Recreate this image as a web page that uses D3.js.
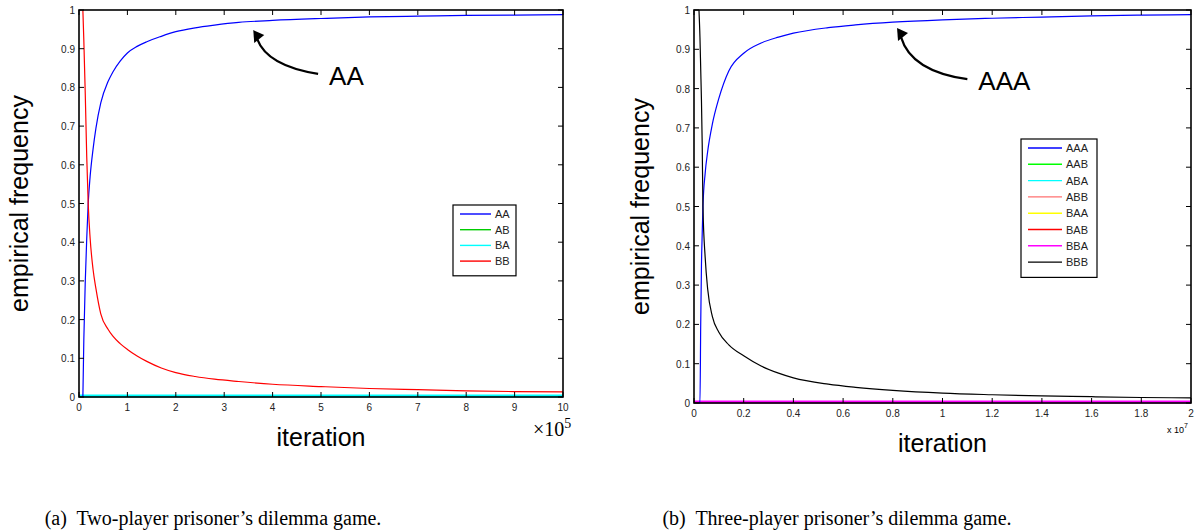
<!DOCTYPE html>
<html lang="en">
<head>
<meta charset="UTF-8">
<title>Empirical frequency of joint actions</title>
<script src="https://cdnjs.cloudflare.com/ajax/libs/d3/7.8.5/d3.min.js"></script>
<style>
    body { margin: 0; background: #fff; }
    svg { display: block; }
    .tick-label { font: 10px "Liberation Sans", Arial, sans-serif; fill: #222; }
    .axis-title { font: 25px "Liberation Sans", Arial, sans-serif; fill: #000; }
    .legend-text { font: 11px "Liberation Sans", Arial, sans-serif; fill: #222; }
    .caption { font: 20px "Liberation Serif", "Times New Roman", serif; fill: #000; }
    .annot { font: 26px "Liberation Sans", Arial, sans-serif; fill: #000; }
</style>
</head>
<body>
<svg id="chart" width="1195" height="531"></svg>
<script>
// ---- data: panel (a), iteration in units of 1e5 ----
const itersA = [0.08, 0.1, 0.13, 0.16, 0.19, 0.23, 0.29, 0.35, 0.45, 0.6, 0.7, 0.85, 1, 1.2, 1.4, 1.7, 2, 2.4, 2.8, 3.3, 4, 5, 6, 7, 8, 9, 10];
const seriesA_AA = [0, 0.15, 0.3, 0.41, 0.5, 0.57, 0.64, 0.695, 0.76, 0.815, 0.84, 0.868, 0.889, 0.906, 0.918, 0.932, 0.944, 0.954, 0.961, 0.968, 0.973, 0.978, 0.982, 0.984, 0.986, 0.987, 0.988];
const seriesA_AB = itersA.map(() => 0);
const seriesA_BA = itersA.map(() => 0);
const seriesA_BB = [1, 0.92, 0.78, 0.62, 0.5, 0.41, 0.33, 0.28, 0.215, 0.175, 0.157, 0.138, 0.123, 0.106, 0.092, 0.075, 0.063, 0.053, 0.046, 0.04, 0.033, 0.027, 0.022, 0.019, 0.016, 0.014, 0.013];
const namesA = ["AA", "AB", "BA", "BB"];
const colorsA = ["#0000ff", "#00cc00", "#00ffff", "#ff0000"];
const xTicksA = [0, 1, 2, 3, 4, 5, 6, 7, 8, 9, 10];

// ---- data: panel (b), iteration in units of 1e7 ----
const itersB = [0.02, 0.024, 0.027, 0.03, 0.033, 0.036, 0.045, 0.055, 0.074, 0.1, 0.14, 0.2, 0.27, 0.34, 0.4, 0.54, 0.65, 0.8, 1.0, 1.2, 1.4, 1.6, 1.8, 2.0];
const seriesB_AAA = [0, 0, 0.2, 0.35, 0.43, 0.5, 0.585, 0.64, 0.71, 0.775, 0.845, 0.89, 0.916, 0.931, 0.941, 0.955, 0.962, 0.969, 0.975, 0.979, 0.982, 0.985, 0.987, 0.988];
const seriesB_zero = itersB.map(() => 0);
const seriesB_BBB = [1, 0.93, 0.85, 0.77, 0.66, 0.5, 0.37, 0.29, 0.22, 0.18, 0.148, 0.12, 0.094, 0.076, 0.064, 0.048, 0.04, 0.032, 0.025, 0.021, 0.018, 0.016, 0.014, 0.013];
const namesB = ["AAA", "AAB", "ABA", "ABB", "BAA", "BAB", "BBA", "BBB"];
const colorsB = ["#0000ff", "#00ff00", "#00ffff", "#ff7070", "#ffff00", "#ff0000", "#ff00ff", "#000000"];
const xTicksB = [0, 0.2, 0.4, 0.6, 0.8, 1, 1.2, 1.4, 1.6, 1.8, 2];

const yTicks = [0, 0.1, 0.2, 0.3, 0.4, 0.5, 0.6, 0.7, 0.8, 0.9, 1];

const svg = d3.select("#chart");

function drawPanel(cfg) {
    const x = d3.scaleLinear().domain(cfg.xDomain).range([cfg.left, cfg.right]);
    const y = d3.scaleLinear().domain([0, 1]).range([cfg.bottom, cfg.top]);
    const g = svg.append("g");
    const tickLen = 5;

    // zero series first (flat along the bottom, from x = 0)
    cfg.series.forEach((s, i) => {
        if (d3.max(s) === 0) {
            g.append("line")
                .attr("x1", x(0)).attr("x2", x(cfg.xDomain[1]))
                .attr("y1", y(0) - 1).attr("y2", y(0) - 1)
                .attr("stroke", cfg.colors[i])
                .attr("stroke-width", cfg.widths[i]);
        }
    });

    // curved series
    const line = d3.line()
        .x(d => x(d[0]))
        .y(d => y(d[1]))
        .curve(d3.curveMonotoneX);
    cfg.series.forEach((s, i) => {
        if (d3.max(s) === 0) return;
        g.append("path")
            .datum(cfg.iters.map((t, j) => [t, s[j]]))
            .attr("fill", "none")
            .attr("stroke", cfg.colors[i])
            .attr("stroke-width", cfg.widths[i])
            .attr("d", line);
    });

    // frame
    g.append("rect")
        .attr("x", cfg.left).attr("y", cfg.top)
        .attr("width", cfg.right - cfg.left).attr("height", cfg.bottom - cfg.top)
        .attr("fill", "none").attr("stroke", "#000").attr("stroke-width", 1.6);

    // x ticks, inward top and bottom
    cfg.xTicks.forEach(t => {
        g.append("line").attr("x1", x(t)).attr("x2", x(t))
            .attr("y1", cfg.bottom).attr("y2", cfg.bottom - tickLen)
            .attr("stroke", "#000");
        g.append("line").attr("x1", x(t)).attr("x2", x(t))
            .attr("y1", cfg.top).attr("y2", cfg.top + tickLen)
            .attr("stroke", "#000");
        g.append("text").attr("class", "tick-label")
            .attr("x", x(t)).attr("y", cfg.bottom + 14)
            .attr("text-anchor", "middle")
            .text(t);
    });
    // y ticks, inward left and right
    yTicks.forEach(t => {
        g.append("line").attr("x1", cfg.left).attr("x2", cfg.left + tickLen)
            .attr("y1", y(t)).attr("y2", y(t)).attr("stroke", "#000");
        g.append("line").attr("x1", cfg.right).attr("x2", cfg.right - tickLen)
            .attr("y1", y(t)).attr("y2", y(t)).attr("stroke", "#000");
        g.append("text").attr("class", "tick-label")
            .attr("x", cfg.left - 4).attr("y", y(t) + 4)
            .attr("text-anchor", "end")
            .text(t);
    });

    // axis titles
    g.append("text").attr("class", "axis-title")
        .attr("x", (cfg.left + cfg.right) / 2).attr("y", cfg.xTitleY)
        .attr("text-anchor", "middle")
        .text("iteration");
    g.append("text").attr("class", "axis-title")
        .attr("transform", `translate(${cfg.yTitleX},${(cfg.top + cfg.bottom) / 2}) rotate(-90)`)
        .attr("text-anchor", "middle")
        .text("empirical frequency");

    // legend
    const lg = g.append("g").attr("transform", `translate(${cfg.legend.x},${cfg.legend.y})`);
    lg.append("rect")
        .attr("width", cfg.legend.w).attr("height", cfg.legend.step * cfg.names.length + 8)
        .attr("fill", "#fff").attr("stroke", "#000").attr("stroke-width", 1.2);
    cfg.names.forEach((n, i) => {
        const yy = 9 + i * cfg.legend.step;
        lg.append("line").attr("x1", 7).attr("x2", 7 + cfg.legend.lineLen)
            .attr("y1", yy).attr("y2", yy)
            .attr("stroke", cfg.colors[i]).attr("stroke-width", 1.4);
        lg.append("text").attr("class", "legend-text")
            .attr("x", 11 + cfg.legend.lineLen).attr("y", yy + 4)
            .text(n);
    });

    // annotation arrow
    const a = cfg.annot;
    const tx = x(a.tail[0]), ty = y(a.tail[1]);
    const hx = x(a.tip[0]), hy = y(a.tip[1]);
    const cx = hx + 14, cy = ty - 8;
    g.append("path")
        .attr("d", `M${tx},${ty} Q${cx},${cy} ${hx + 4},${hy + 9}`)
        .attr("fill", "none").attr("stroke", "#000").attr("stroke-width", 2.2);
    g.append("path")
        .attr("d", `M${hx},${hy} L${hx + 11},${hy + 5} L${hx + 1},${hy + 13} Z`)
        .attr("fill", "#000");
    g.append("text").attr("class", "annot")
        .attr("x", tx + 11).attr("y", ty + 11)
        .text(a.label);

    return { x, y, g };
}

const pA = drawPanel({
    left: 79, right: 563, top: 10, bottom: 397,
    xDomain: [0, 10], xTicks: xTicksA,
    iters: itersA,
    series: [seriesA_AA, seriesA_AB, seriesA_BA, seriesA_BB],
    names: namesA, colors: colorsA, widths: [1.2, 1.2, 3, 1.2],
    xTitleY: 446, yTitleX: 28,
    legend: { x: 453, y: 205, w: 63, step: 15.7, lineLen: 31 },
    annot: { tip: [3.6, 0.948], tail: [4.94, 0.835], label: "AA" }
});
pA.g.append("text")
    .attr("x", 533).attr("y", 436)
    .attr("font-family", "'Liberation Serif', serif").attr("font-size", 20)
    .text("×10")
    .append("tspan").attr("font-size", 14).attr("dy", -8).text("5");

const pB = drawPanel({
    left: 694, right: 1191, top: 10, bottom: 403,
    xDomain: [0, 2], xTicks: xTicksB,
    iters: itersB,
    series: [seriesB_AAA, seriesB_zero, seriesB_zero, seriesB_zero, seriesB_zero, seriesB_zero, seriesB_zero, seriesB_BBB],
    names: namesB, colors: colorsB, widths: [1.2, 1.2, 1.2, 1.2, 1.2, 1.2, 3, 1.2],
    xTitleY: 452, yTitleX: 649,
    legend: { x: 1021, y: 139, w: 76, step: 16.3, lineLen: 34 },
    annot: { tip: [0.817, 0.954], tail: [1.10, 0.824], label: "AAA" }
});
pB.g.append("text")
    .attr("x", 1167).attr("y", 433)
    .attr("font-family", "'Liberation Sans', Arial, sans-serif").attr("font-size", 9)
    .text("x 10")
    .append("tspan").attr("font-size", 7).attr("dy", -5).text("7");

// captions
svg.append("text").attr("class", "caption")
    .attr("x", 213).attr("y", 525).attr("text-anchor", "middle")
    .attr("xml:space", "preserve")
    .text("(a)  Two-player prisoner’s dilemma game.");
svg.append("text").attr("class", "caption")
    .attr("x", 837).attr("y", 525).attr("text-anchor", "middle")
    .attr("xml:space", "preserve")
    .text("(b)  Three-player prisoner’s dilemma game.");
</script>
</body>
</html>
